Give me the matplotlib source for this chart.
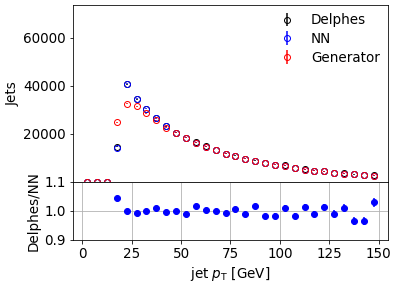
import matplotlib.pyplot as plt
import numpy as np

# bin centres (5 GeV bins)
pt = np.arange(2.5, 150, 5)

gen = [0, 0, 0, 24800, 32500, 31500, 28500, 25700, 22600, 20560,
       18470, 16390, 14720, 13190, 11810, 10830, 9720, 8750, 7920, 7220,
       6800, 5830, 5140, 4720, 4310, 3750, 3470, 3190, 2920, 2640]
nn = [0, 0, 0, 14030, 40830, 34720, 30420, 26530, 23190, 20560,
      18470, 16390, 14720, 13190, 11810, 10830, 9720, 8750, 7920, 7220,
      6800, 5830, 5140, 4720, 4310, 3750, 3470, 3190, 2920, 2640]

# Delphes / NN ratio, from 17.5 GeV on
ratio = [1.045, 0.998, 0.994, 0.998, 1.009, 0.997, 1.000, 0.989, 1.016, 1.003,
         1.001, 0.994, 1.008, 0.990, 1.016, 0.983, 0.984, 1.011, 0.984, 1.014,
         0.989, 1.013, 0.990, 1.011, 0.966, 0.964, 1.030]
ratio_err = [0.004, 0.003, 0.004, 0.004, 0.004, 0.005, 0.005, 0.005, 0.006, 0.006,
             0.006, 0.007, 0.007, 0.007, 0.008, 0.008, 0.009, 0.009, 0.010, 0.010,
             0.011, 0.011, 0.012, 0.013, 0.013, 0.014, 0.015]

gen = np.array(gen, dtype=float)
nn = np.array(nn, dtype=float)
ratio = np.array(ratio)
delphes = nn.copy()
delphes[3:] = nn[3:] * ratio

plt.rcParams['font.size'] = 13.5

fig = plt.figure(figsize=(398 / 72, 285 / 72), dpi=72)
ax1 = fig.add_axes([0.183, 0.362, 0.792, 0.620])
ax2 = fig.add_axes([0.183, 0.158, 0.792, 0.204], sharex=ax1)

ms = 6
ax1.errorbar(pt, delphes, yerr=np.sqrt(delphes), fmt="o", color="black", mfc="none", ms=ms, label="Delphes")
ax1.errorbar(pt, nn, yerr=np.sqrt(nn), fmt="o", color="blue", mfc="none", ms=ms, label="NN")
ax1.errorbar(pt, gen, yerr=np.sqrt(gen), fmt="o", color="red", mfc="none", ms=ms, label="Generator")
ax1.set_ylim(0, 73700)
ax1.set_yticks([20000, 40000, 60000])
ax1.set_ylabel("Jets")
ax1.tick_params(labelbottom=False)
ax1.legend(frameon=False, loc="upper right", borderaxespad=0.2, labelspacing=0.35)

ax2.errorbar(pt[3:], ratio, yerr=ratio_err, fmt="o", color="blue", ms=ms)
ax2.set_ylim(0.9, 1.1)
ax2.set_yticks([0.9, 1.0, 1.1])
ax2.grid()
ax2.set_xticks([0, 25, 50, 75, 100, 125, 150])
ax2.set_xlabel("jet $p_\\mathrm{T}$ [GeV]")
ax2.set_ylabel("Delphes/NN")

fig.align_ylabels([ax1, ax2])
fig.savefig("out.png", dpi=72)
